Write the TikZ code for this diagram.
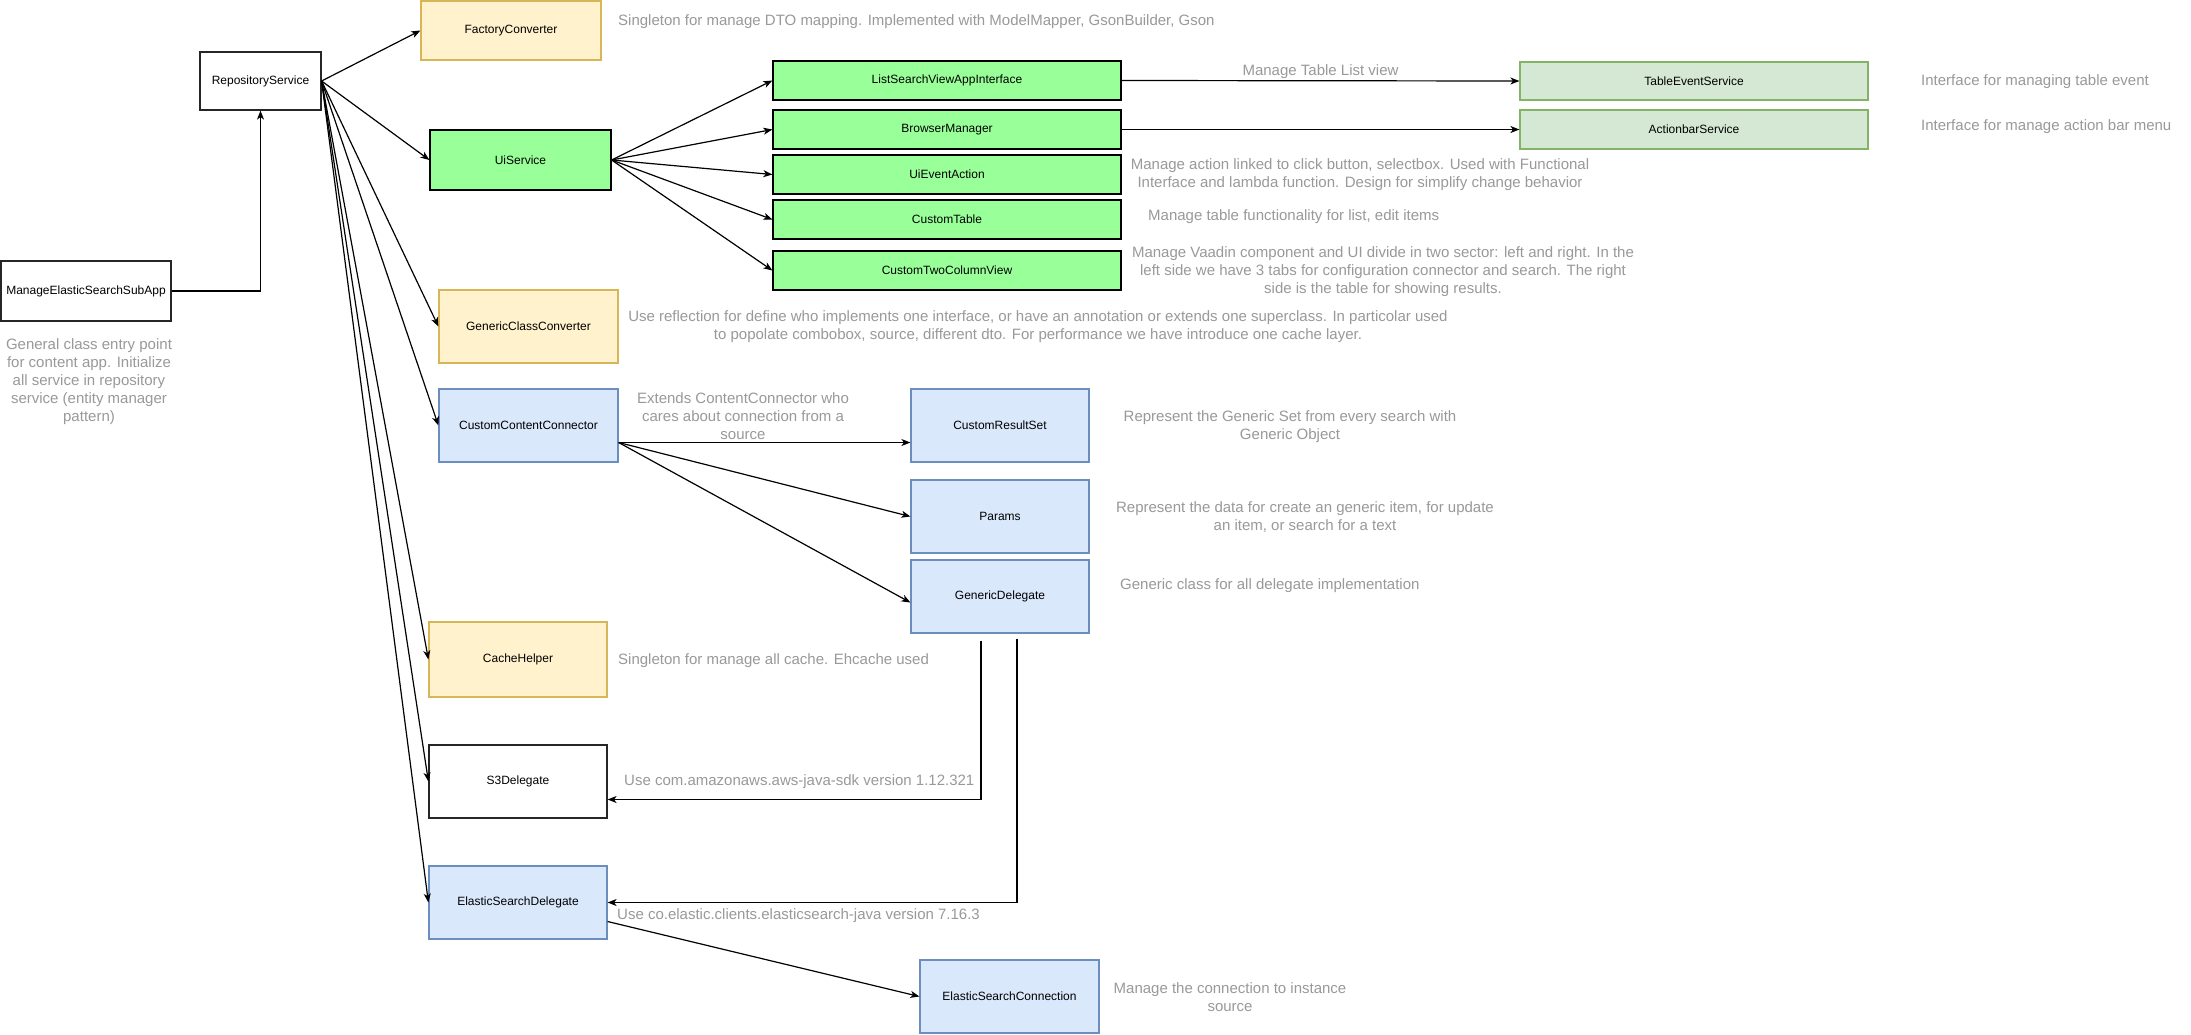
\documentclass[tikz,border=0pt]{standalone}
\usepackage{fontspec}
\setmainfont{Liberation Sans}
\usetikzlibrary{arrows.meta,calc}

\definecolor{notegray}{HTML}{999999}
\definecolor{yelfill}{HTML}{FFF2CC}
\definecolor{yeldraw}{HTML}{D6B656}
\definecolor{grnfill}{HTML}{99FF99}
\definecolor{palefill}{HTML}{D5E8D4}
\definecolor{paledraw}{HTML}{82B366}
\definecolor{bluefill}{HTML}{DAE8FC}
\definecolor{bluedraw}{HTML}{6C8EBF}

\begin{document}
\begin{tikzpicture}[x=1pt,y=-1pt,
		box/.style={line width=1.2pt,inner sep=0pt,font=\fontsize{12}{14}\selectfont},
		cls/.style={box,draw=black!85,fill=white},
		yel/.style={box,draw=yeldraw,fill=yelfill},
		grn/.style={box,draw=black,fill=grnfill},
		pal/.style={box,draw=paledraw,fill=palefill},
		blu/.style={box,draw=bluedraw,fill=bluefill},
		note/.style={text=notegray,font=\fontsize{15}{18}\selectfont,align=center,inner sep=0pt},
		arr/.style={line width=1.2pt,-{Stealth[length=9pt,width=7pt,inset=2.5pt]}}]
	\fill[white] (0,0) rectangle (2191,1034);
	\useasboundingbox (0,0) rectangle (2191,1034);
	%\draw[help lines,step=100] (0,0) grid (2191,1034);

	% left column
	\node[cls, minimum width=170, minimum height=60] (subapp) at (86,291) {ManageElasticSearchSubApp};
	\node[cls, minimum width=121, minimum height=58] (repo) at (260.5,81) {RepositoryService};
	\node[note] (subappnote) at (89,382) {General class entry point\\for content app. Initialize\\all service in repository\\service (entity manager\\pattern)};

	% services
	\node[yel, minimum width=180, minimum height=59] (factory) at (511,30.5) {FactoryConverter};
	\node[grn, minimum width=181, minimum height=60] (ui) at (520.5,160) {UiService};
	\node[yel, minimum width=179, minimum height=73] (generic) at (528.5,326.5) {GenericClassConverter};
	\node[blu, minimum width=179, minimum height=73] (content) at (528.5,425.5) {CustomContentConnector};
	\node[yel, minimum width=178, minimum height=75] (cache) at (518,659.5) {CacheHelper};
	\node[cls, minimum width=178, minimum height=73] (sthree) at (518,781.5) {S3Delegate};
	\node[blu, minimum width=178, minimum height=73] (esdel) at (518,902.5) {ElasticSearchDelegate};
	\node[blu, minimum width=179, minimum height=73] (esconn) at (1009.5,996.5) {ElasticSearchConnection};

	% ui components
	\node[grn, minimum width=348, minimum height=39] (lsview) at (947,80.5) {ListSearchViewAppInterface};
	\node[grn, minimum width=348, minimum height=39] (browser) at (947,129.5) {BrowserManager};
	\node[grn, minimum width=348, minimum height=39] (uievent) at (947,174.5) {UiEventAction};
	\node[grn, minimum width=348, minimum height=39] (table) at (947,219.5) {CustomTable};
	\node[grn, minimum width=348, minimum height=39] (twocol) at (947,270.5) {CustomTwoColumnView};
	\node[pal, minimum width=348, minimum height=38] (tableev) at (1694,81) {TableEventService};
	\node[pal, minimum width=348, minimum height=39] (actionbar) at (1694,129.5) {ActionbarService};

	% connector classes
	\node[blu, minimum width=178, minimum height=73] (resultset) at (1000,425.5) {CustomResultSet};
	\node[blu, minimum width=178, minimum height=73] (params) at (1000,516.5) {Params};
	\node[blu, minimum width=178, minimum height=73] (gdelegate) at (1000,596.5) {GenericDelegate};

	% notes
	\node[note, anchor=west] (factorynote) at (618,22) {Singleton for manage DTO mapping. Implemented with ModelMapper, GsonBuilder, Gson};
	\node[note, anchor=west] (tableevnote) at (1921,82) {Interface for managing table event};
	\node[note, anchor=west] (actionbarnote) at (1921,127) {Interface for manage action bar menu};
	\node[note] (uieventnote) at (1360,175) {Manage action linked to click button, selectbox. Used with Functional\\Interface and lambda function. Design for simplify change behavior};
	\node[note, anchor=west] (tablenote) at (1148,217) {Manage table functionality for list, edit items};
	\node[note] (twocolnote) at (1383,272) {Manage Vaadin component and UI divide in two sector: left and right. In the\\left side we have 3 tabs for configuration connector and search. The right\\side is the table for showing results.};
	\node[note] (genericnote) at (1038,327) {Use reflection for define who implements one interface, or have an annotation or extends one superclass. In particolar used\\to popolate combobox, source, different dto. For performance we have introduce one cache layer.};
	\node[note] (contentnote) at (743,416) {Extends ContentConnector who\\cares about connection from a\\source};
	\node[note] (resultnote) at (1290,427) {Represent the Generic Set from every search with\\Generic Object};
	\node[note] (paramsnote) at (1305,517) {Represent the data for create an generic item, for update\\an item, or search for a text};
	\node[note, anchor=west] (gdelegatenote) at (1120,586) {Generic class for all delegate implementation};
	\node[note, anchor=west] (cachenote) at (618,661) {Singleton for manage all cache. Ehcache used};
	\node[note, anchor=west] (sthreenote) at (624,782) {Use com.amazonaws.aws-java-sdk version 1.12.321};
	\node[note, anchor=west] (esdelnote) at (617,916) {Use co.elastic.clients.elasticsearch-java version 7.16.3};
	\node[note] (esconnnote) at (1230,997) {Manage the connection to instance\\source};

	% arrows
	\draw[arr] (subapp.east) -| (repo.south);
	\draw[arr] (repo.east) -- (factory.west);
	\draw[arr] (repo.east) -- (ui.west);
	\draw[arr] (repo.east) -- (generic.west);
	\draw[arr] (repo.east) -- (content.west);
	\draw[arr] (repo.east) -- (cache.west);
	\draw[arr] (repo.east) -- (sthree.west);
	\draw[arr] (repo.east) -- (esdel.west);

	\draw[arr] (ui.east) -- (lsview.west);
	\draw[arr] (ui.east) -- (browser.west);
	\draw[arr] (ui.east) -- (uievent.west);
	\draw[arr] (ui.east) -- (table.west);
	\draw[arr] (ui.east) -- (twocol.west);
	\draw[arr] (lsview.east) -- (tableev.west) node[midway, above, note, yshift=2pt] {Manage Table List view};
	\draw[arr] (browser.east) -- (actionbar.west);

	\coordinate (contentout) at ([yshift=-17pt]content.east);
	\draw[arr] (contentout) -- (contentout -| resultset.west);
	\draw[arr] (contentout) -- (params.west);
	\draw[arr] (contentout) -- ([yshift=-6pt]gdelegate.west);

	\draw[arr] ([xshift=-19pt,yshift=-7pt]gdelegate.south) |- ([yshift=-18pt]sthree.east);
	\draw[arr] ([xshift=17pt,yshift=-5pt]gdelegate.south) |- (esdel.east);
	\draw[arr] ([yshift=-19pt]esdel.east) -- (esconn.west);
\end{tikzpicture}
\end{document}
